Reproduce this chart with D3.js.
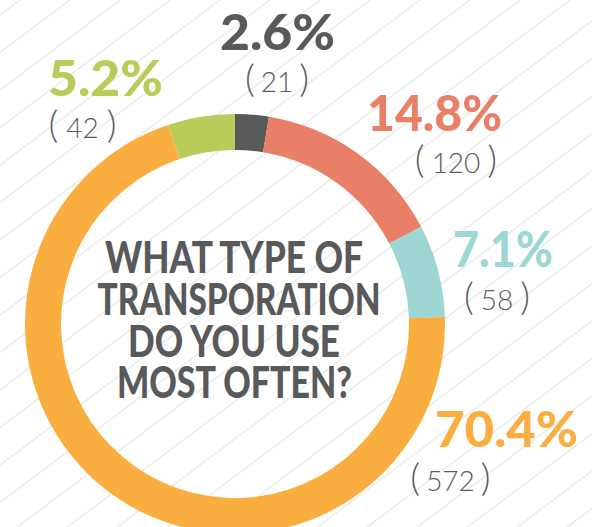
<!DOCTYPE html>
<html>
<head>
<meta charset="utf-8">
<script src="https://cdn.jsdelivr.net/npm/d3@7"></script>
<style>
  html, body { margin: 0; padding: 0; background: #ffffff; }
  svg { display: block; }
</style>
</head>
<body>
<div id="chart"></div>
<script>
// ---- data ----
const categories = ["Other", "Bus", "Bike", "Car", "Walk"];
const counts = [21, 120, 58, 572, 42];
const percentLabels = ["2.6%", "14.8%", "7.1%", "70.4%", "5.2%"];
const colors = ["#58595b", "#e87f66", "#9dd6d3", "#fbae40", "#b9cc5a"];
const titleLines = ["WHAT TYPE OF", "TRANSPORATION", "DO YOU USE", "MOST OFTEN?"];

// ---- layout ----
const W = 592, H = 527;
const cx = 235, cy = 324, R = 210, r = 174;
const labelLayout = [
  {px: 220, py: 50,  pw: 115, cc: 277, cyb: 92,  gap: 6},
  {px: 367, py: 131, pw: 135, cc: 456, cyb: 173, gap: 7},
  {px: 453, py: 267, pw: 100, cc: 497, cyb: 310, gap: 7},
  {px: 435, py: 447, pw: 143, cc: 450.5, cyb: 491, gap: 6},
  {px: 48,  py: 96,  pw: 115, cc: 82.5, cyb: 138, gap: 8}
];
const titleLayout = [
  {y: 273, w: 258, x: 234},
  {y: 315, w: 283, x: 239},
  {y: 357, w: 212, x: 234},
  {y: 398, w: 235, x: 234.5}
];

const svg = d3.select("#chart").append("svg")
  .attr("width", W).attr("height", H)
  .attr("viewBox", `0 0 ${W} ${H}`);

svg.append("rect").attr("width", W).attr("height", H).attr("fill", "#ffffff");

// background diagonal stripes
const stripes = svg.append("g").attr("stroke", "#ebecec").attr("stroke-width", 1.6);
const slope = 0.75, gap = 37.5, base = 390;
for (let k = -12; k <= 18; k++) {
  const c = base + k * gap;
  stripes.append("line")
    .attr("x1", 0).attr("y1", c)
    .attr("x2", W).attr("y2", c - slope * W);
}

// donut
const pie = d3.pie().sort(null).value(d => d)(counts);
const arc = d3.arc().innerRadius(r).outerRadius(R);
svg.append("g").attr("transform", `translate(${cx},${cy})`)
  .selectAll("path").data(pie).join("path")
  .attr("d", arc)
  .attr("fill", (d, i) => colors[i]);

// center title (one text element, one tspan per line)
const title = svg.append("text")
  .attr("text-anchor", "middle")
  .attr("font-family", "Lato, 'Liberation Sans Narrow', sans-serif")
  .attr("font-weight", 900)
  .attr("font-size", 43)
  .attr("fill", "#58595b");
title.selectAll("tspan").data(titleLines).join("tspan")
  .attr("x", (d, i) => titleLayout[i].x)
  .attr("y", (d, i) => titleLayout[i].y)
  .attr("textLength", (d, i) => titleLayout[i].w)
  .attr("lengthAdjust", "spacingAndGlyphs")
  .text(d => d);

// percent labels
svg.append("g").selectAll("text").data(percentLabels).join("text")
  .attr("x", (d, i) => labelLayout[i].px)
  .attr("y", (d, i) => labelLayout[i].py)
  .attr("textLength", (d, i) => labelLayout[i].pw)
  .attr("lengthAdjust", "spacingAndGlyphs")
  .attr("font-family", "Lato, 'Open Sans', sans-serif")
  .attr("font-weight", 900)
  .attr("font-size", 50)
  .attr("fill", (d, i) => colors[i])
  .text(d => d);

// count labels: "( n )" as one text each, with tall thin parentheses
const cg = svg.append("g").attr("fill", "#5b5c5e")
  .attr("font-family", "Lato, 'Open Sans', sans-serif").attr("font-weight", 300);
counts.forEach((v, i) => {
  const L = labelLayout[i];
  const t = cg.append("text")
    .attr("x", L.cc).attr("y", L.cyb)
    .attr("text-anchor", "middle");
  t.append("tspan").attr("font-size", 38).text("(");
  t.append("tspan").attr("font-size", 28).attr("dx", L.gap).text(String(v));
  t.append("tspan").attr("font-size", 38).attr("dx", L.gap).text(")");
});
</script>
</body>
</html>
